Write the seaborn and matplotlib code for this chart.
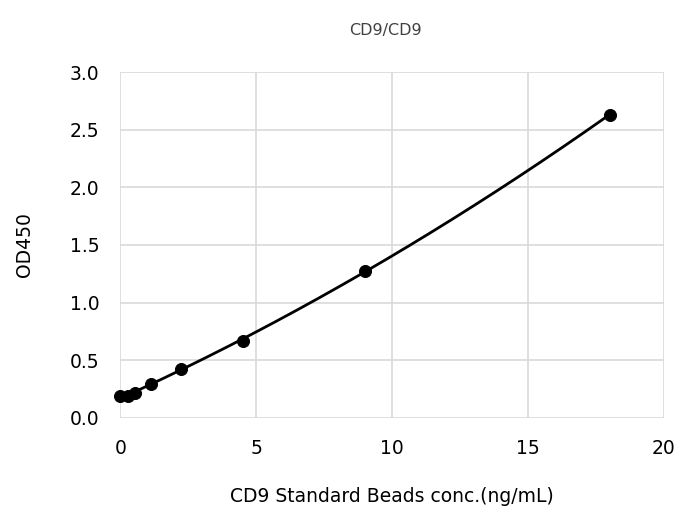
import matplotlib
matplotlib.use("Agg")
import matplotlib.pyplot as plt
import numpy as np
import pandas as pd
import seaborn as sns

# standard curve values
conc = [0.0, 0.28, 0.56, 1.125, 2.25, 4.5, 9.0, 18.0]
od450 = [0.185, 0.19, 0.215, 0.295, 0.425, 0.67, 1.275, 2.63]
x_ticks = [0, 5, 10, 15, 20]
y_ticks = [0.0, 0.5, 1.0, 1.5, 2.0, 2.5, 3.0]

sns.set_theme(style="whitegrid")
plt.rcParams['font.family'] = ['DejaVu Sans']

df = pd.DataFrame({"conc": conc, "od": od450})

fig = plt.figure(figsize=(6.83, 5.12), dpi=100)
ax = fig.add_axes([0.176, 0.184, 0.796, 0.675])

# smooth trend curve through the standards
coef = np.polyfit(df["conc"], df["od"], 2)
xs = np.linspace(min(conc), max(conc), 200)
ax.plot(xs, np.polyval(coef, xs), color="black", lw=2, zorder=3)

sns.scatterplot(data=df, x="conc", y="od", ax=ax, color="black", s=75,
                edgecolor="black", zorder=4, clip_on=False)

ax.set_xlim(0, 20)
ax.set_ylim(0, 3.0)
ax.set_xticks(x_ticks)
ax.set_yticks(y_ticks)
ax.set_yticklabels([f"{v:.1f}" for v in y_ticks])
ax.grid(True, color="#d9d9d9", lw=1.2)
for s in ax.spines.values():
    s.set_visible(False)
ax.tick_params(labelsize=13.5, colors="black", pad=9)

ax.set_xlabel("CD9 Standard Beads conc.(ng/mL)", fontsize=13.5, labelpad=21, color="black")
ax.set_ylabel("OD450", fontsize=13.5, labelpad=26, color="black")
fig.text(0.564, 0.94, "CD9/CD9", ha="center", va="center", fontsize=11.5, color="#404040")

fig.savefig("out.png", dpi=100, facecolor="white")
